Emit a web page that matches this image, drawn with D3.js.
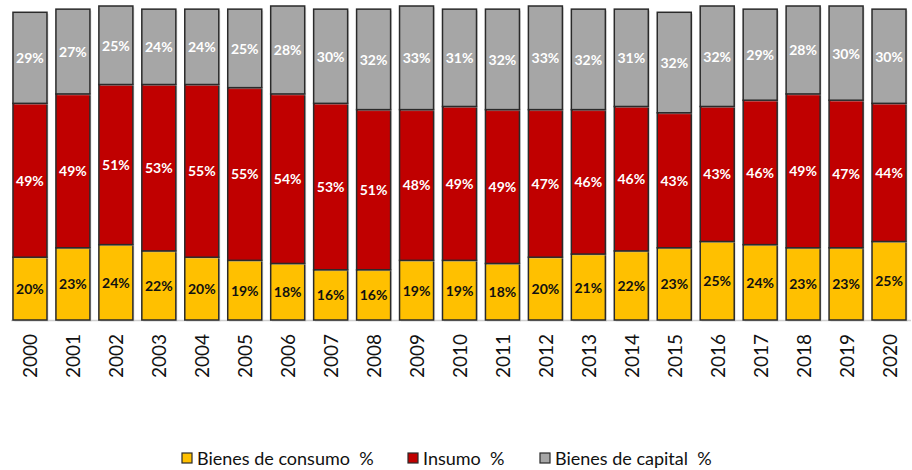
<!DOCTYPE html>
<html lang="es">
<head>
<meta charset="utf-8">
<title>Bienes de consumo, insumo y capital</title>
<script src="https://d3js.org/d3.v7.min.js"></script>
<style>
  body { margin: 0; background: #fff; }
  svg text { font-family: Lato, "Open Sans", sans-serif; }
</style>
</head>
<body>
<div id="chart"></div>
<script>
// data (percent)
var years = ["2000","2001","2002","2003","2004","2005","2006","2007","2008","2009","2010",
             "2011","2012","2013","2014","2015","2016","2017","2018","2019","2020"];
var consumo = [20,23,24,22,20,19,18,16,16,19,19,18,20,21,22,23,25,24,23,23,25];
var insumo  = [49,49,51,53,55,55,54,53,51,48,49,49,47,46,46,43,43,46,49,47,44];
var capital = [29,27,25,24,24,25,28,30,32,33,31,32,33,32,31,32,32,29,28,30,30];

var keys = ["consumo", "insumo", "capital"];
var names = ["Bienes de consumo  %", "Insumo  %", "Bienes de capital  %"];
var colors = {consumo: "#FFC000", insumo: "#C00000", capital: "#A6A6A6"};
var labelColor = {consumo: "#111", insumo: "#fff", capital: "#fff"};

var rows = years.map(function(y, i) {
  return {year: y, consumo: consumo[i], insumo: insumo[i], capital: capital[i]};
});

var width = 912, height = 470;

var svg = d3.select("#chart").append("svg")
  .attr("width", width)
  .attr("height", height);

var x = d3.scaleBand()
  .domain(years)
  .range([8.5, 910.5])
  .paddingInner(0.208)
  .paddingOuter(0.104);

var y = d3.scaleLinear()
  .domain([0, 100])
  .range([320, 6]);

// baseline
svg.append("line")
  .attr("x1", 11).attr("x2", 911)
  .attr("y1", y(0) + 0.5).attr("y2", y(0) + 0.5)
  .attr("stroke", "#d0d0d0")
  .attr("stroke-width", 1.5);

var series = d3.stack().keys(keys)(rows);

var groups = svg.selectAll("g.serie")
  .data(series)
  .enter().append("g")
  .attr("class", "serie");

// soft shadow behind segments
groups.selectAll("rect.shadow")
  .data(function(d) { return d; })
  .enter().append("rect")
  .attr("class", "shadow")
  .attr("x", function(d) { return x(d.data.year) + 1.5; })
  .attr("y", function(d) { return y(d[1]) + 1.5; })
  .attr("width", x.bandwidth())
  .attr("height", function(d) { return y(d[0]) - y(d[1]); })
  .attr("fill", "#bbb")
  .attr("opacity", 0.5);

groups.selectAll("rect.seg")
  .data(function(d) { return d.map(function(v) { v.key = d.key; return v; }); })
  .enter().append("rect")
  .attr("class", "seg")
  .attr("x", function(d) { return x(d.data.year); })
  .attr("y", function(d) { return y(d[1]); })
  .attr("width", x.bandwidth())
  .attr("height", function(d) { return y(d[0]) - y(d[1]); })
  .attr("fill", function(d) { return colors[d.key]; })
  .attr("stroke", "#2a2a2a")
  .attr("stroke-width", 1.5);

groups.selectAll("text")
  .data(function(d) { return d.map(function(v) { v.key = d.key; return v; }); })
  .enter().append("text")
  .attr("x", function(d) { return x(d.data.year) + x.bandwidth() / 2; })
  .attr("y", function(d) { return (y(d[0]) + y(d[1])) / 2; })
  .attr("text-anchor", "middle")
  .attr("dominant-baseline", "central")
  .attr("font-size", "14px")
  .attr("font-weight", "bold")
  .attr("fill", function(d) { return labelColor[d.key]; })
  .text(function(d) { return (d[1] - d[0]) + "%"; });

// year labels, rotated
svg.selectAll("text.year")
  .data(years)
  .enter().append("text")
  .attr("class", "year")
  .attr("transform", function(d) {
    return "translate(" + (x(d) + x.bandwidth() / 2) + ",334) rotate(-90)";
  })
  .attr("text-anchor", "end")
  .attr("dominant-baseline", "central")
  .attr("font-size", "19px")
  .attr("fill", "#111")
  .text(function(d) { return d; });

// legend
var legX = [182, 408, 540];
var leg = svg.selectAll("g.leg")
  .data(keys)
  .enter().append("g")
  .attr("class", "leg")
  .attr("transform", function(d, i) { return "translate(" + legX[i] + ",458)"; });

leg.append("rect")
  .attr("x", 0).attr("y", -5)
  .attr("width", 10).attr("height", 10)
  .attr("fill", function(d) { return colors[d]; })
  .attr("stroke", "#2a2a2a")
  .attr("stroke-width", 1.2);

leg.append("text")
  .attr("x", 15)
  .attr("y", 0)
  .attr("dominant-baseline", "central")
  .attr("font-size", "18px")
  .attr("fill", "#111")
  .style("white-space", "pre")
  .text(function(d, i) { return names[i]; });
</script>
</body>
</html>
